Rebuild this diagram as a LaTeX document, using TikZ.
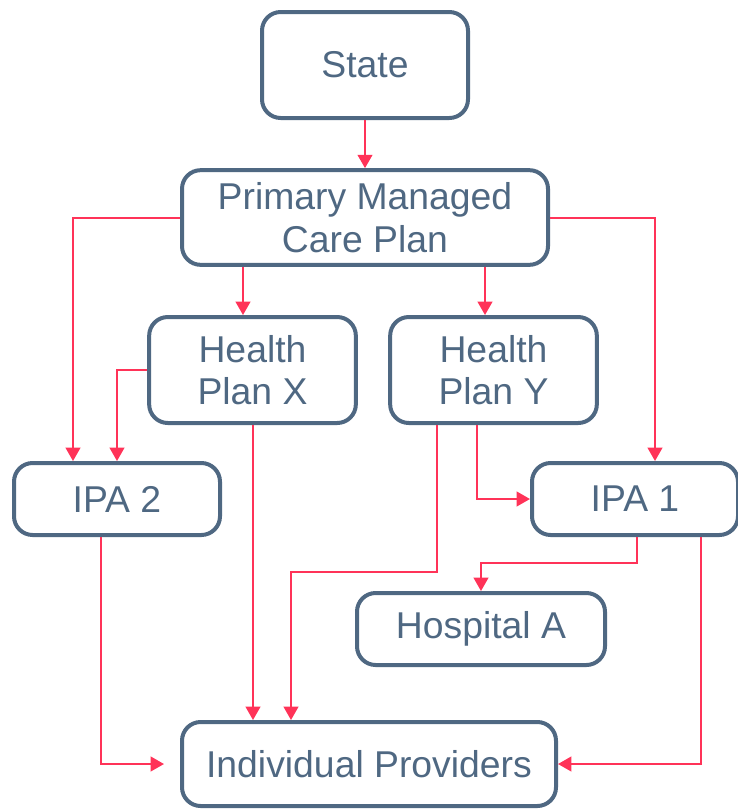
\documentclass[tikz,border=0pt]{standalone}
\usepackage{fontspec}
\setmainfont{Liberation Sans}
\usetikzlibrary{arrows.meta,calc}
\begin{document}
\begin{tikzpicture}[x=0.75pt,y=-0.75pt,
    box/.style={
        draw=slate,
        line width=3pt,
        rounded corners=14pt,
        text=slate,
        align=center,
        inner sep=0pt,
        font=\fontsize{28}{32}\selectfont
    },
    link/.style={
        draw=linkred,
        line width=1.5pt,
        -{Triangle[length=10pt,width=11pt]}
    }]
    % Define colors
    \definecolor{slate}{RGB}{79, 104, 130}
    \definecolor{linkred}{RGB}{255, 51, 88}

    \useasboundingbox (0,0) rectangle (738,811);

    % boxes
    \node[box, minimum width=154.5pt, minimum height=79.5pt] (state) at (365,65) {State};
    \node[box, minimum width=274.5pt, minimum height=71pt] (pmcp) at (365,217.5) {Primary Managed\\Care Plan};
    \node[box, minimum width=155pt, minimum height=79.5pt] (hpx) at (252.5,370) {Health\\Plan X};
    \node[box, minimum width=155pt, minimum height=79.5pt] (hpy) at (493.5,370) {Health\\Plan Y};
    \node[box, minimum width=154.5pt, minimum height=54pt] (ipa2) at (117,499) {IPA 2};
    \node[box, minimum width=154.5pt, minimum height=54pt] (ipa1) at (635,499) {IPA 1};
    \node[box, minimum width=186pt, minimum height=54pt] (hosp) at (481,629) {Hospital A};
    \node[box, minimum width=280.5pt, minimum height=63pt] (ip) at (369,764) {Individual Providers};

    % entry points
    \coordinate (hpx in) at ($(hpx.north)+(-9.5,0)$);
    \coordinate (hpy in) at ($(hpy.north)+(-8.5,0)$);
    \coordinate (ip in1) at ($(ip.north)+(-116,0)$);
    \coordinate (ip in2) at ($(ip.north)+(-78,0)$);

    % connectors
    \draw[link] (state.south) -- (pmcp.north);
    \draw[link] (pmcp.west) -| ($(ipa2.north)+(-44,0)$);
    \draw[link] (pmcp.east) -| ($(ipa1.north)+(20,0)$);
    \draw[link] (pmcp.south -| hpx in) -- (hpx in);
    \draw[link] (pmcp.south -| hpy in) -- (hpy in);
    \draw[link] (hpx.west) -| (ipa2.north);
    \draw[link] (hpx.south -| ip in1) -- (ip in1);
    \draw[link] ($(hpy.south)+(-56.5,0)$) -- ++(0,147) -| (ip in2);
    \draw[link] ($(hpy.south)+(-16.5,0)$) |- (ipa1.west);
    \draw[link] ($(ipa1.south)+(2,0)$) -- ++(0,26) -| (hosp.north);
    \draw[link] ($(ipa1.south)+(66,0)$) |- (ip.east);
    \draw[link, shorten >=12pt] ($(ipa2.south)+(-16,0)$) |- (ip.west);
\end{tikzpicture}
\end{document}
